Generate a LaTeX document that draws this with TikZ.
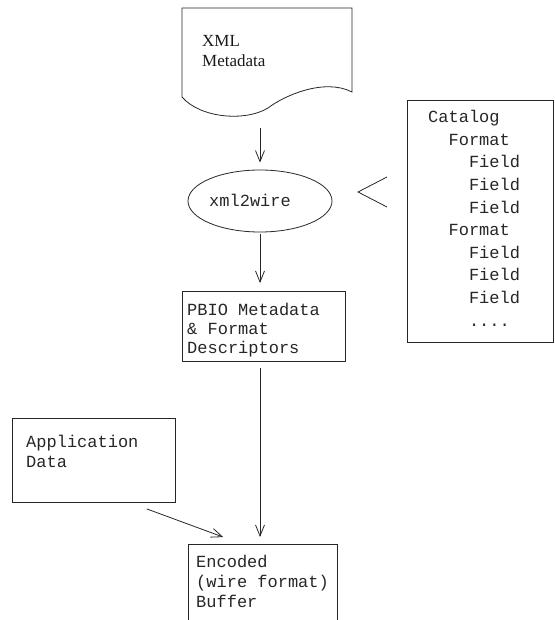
\documentclass[tikz,border=0pt]{standalone}
\usepackage{fontspec}
\setmainfont{Liberation Serif}
\setmonofont{Liberation Mono}
\usetikzlibrary{arrows.meta,shapes.geometric,calc}
\begin{document}
\begin{tikzpicture}[x=1pt,y=-1pt,
  ln/.style={line width=0.8pt, draw=black!85},
  arr/.style={ln, -{Straight Barb[length=11pt,width=9pt,line width=0.8pt]}},
  box/.style={ln, rectangle, inner sep=0pt, outer sep=0pt, anchor=north west},
  tt/.style={font=\fontsize{17}{20}\selectfont\ttfamily, anchor=base west, inner sep=0pt, text=black!85},
  rm/.style={font=\fontsize{17}{20}\selectfont\rmfamily, anchor=base west, inner sep=0pt, text=black!90}]
\useasboundingbox (0,0) rectangle (554,620);
\clip (0,0) rectangle (554,620);

% XML metadata document
\draw[ln] (182,8) -- (352,8) -- (352,92)
  .. controls (325,78) and (285,95) .. (268,108)
  .. controls (245,122) and (200,118) .. (182,97) -- cycle;
\coordinate (docb) at (260,114);
\node[rm] (xml1) at (202,47) {XML};
\node[rm] (xml2) at (202,67) {Metadata};

% xml2wire ellipse
\node[ln, ellipse, minimum width=144pt, minimum height=62pt, inner sep=0pt] (xw) at (260,201) {};
\node[tt] (xwt) at (209,207) {xml2wire};

% PBIO box
\node[box, minimum width=163pt, minimum height=70pt] (pbio) at (182,291) {};
\node[tt] (p1) at (187,315) {PBIO Metadata};
\node[tt] (p2) at (187,334) {\& Format};
\node[tt] (p3) at (187,353) {Descriptors};

% Catalog box
\node[box, minimum width=146pt, minimum height=242pt] (cat) at (407,100) {};
\node[tt] (c0) at (428,123) {Catalog};
\node[tt] (c1) at (428,145.5) {\phantom{xx}Format};
\node[tt] (c2) at (428,168) {\phantom{xxxx}Field};
\node[tt] (c3) at (428,190.5) {\phantom{xxxx}Field};
\node[tt] (c4) at (428,213) {\phantom{xxxx}Field};
\node[tt] (c5) at (428,235.5) {\phantom{xx}Format};
\node[tt] (c6) at (428,258) {\phantom{xxxx}Field};
\node[tt] (c7) at (428,280.5) {\phantom{xxxx}Field};
\node[tt] (c8) at (428,303) {\phantom{xxxx}Field};
\node[tt] (c9) at (428,326) {\phantom{xxxx}....};

% chevron
\coordinate (chev) at (358,192);
\draw[ln] ($(chev)+(29,-15)$) -- (chev) -- ($(chev)+(29,15)$);

% Application data box
\node[box, minimum width=163pt, minimum height=84pt] (app) at (12,418) {};
\node[tt] (a1) at (26,447) {Application};
\node[tt] (a2) at (26,467) {Data};

% Encoded buffer box
\node[box, minimum width=149pt, minimum height=100pt] (enc) at (188,544) {};
\node[tt] (e1) at (196,567) {Encoded};
\node[tt] (e2) at (196,587) {(wire format)};
\node[tt] (e3) at (196,607) {Buffer};

% connectors
\draw[arr, shorten <=14pt, shorten >=7pt] (docb) -- (xw.north);
\draw[arr, shorten <=2pt, shorten >=8pt] (xw.south) -- (xw.south |- pbio.north);
\draw[arr, shorten <=7pt, shorten >=7pt] (xw.south |- pbio.south) -- (xw.south |- enc.north);
\draw[arr, shorten <=20pt, shorten >=20pt] ($(app.south west)+(116,0)$) -- ($(enc.north west)+(54,0)$);
\end{tikzpicture}
\end{document}
